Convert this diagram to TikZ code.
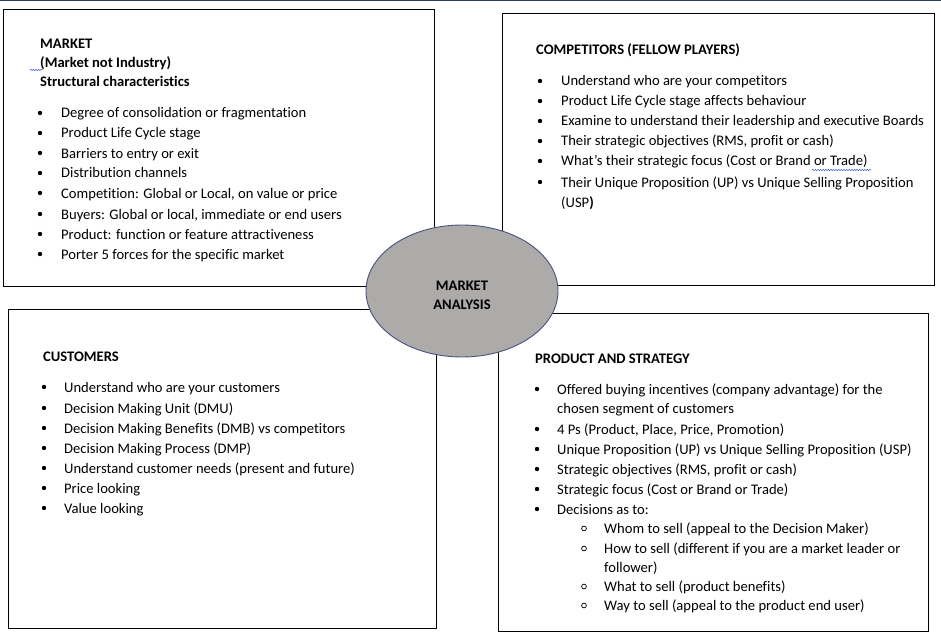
\documentclass[tikz,border=0pt]{standalone}
\usepackage{fontspec}
\setmainfont{Carlito}[Ligatures=NoCommon]
\usetikzlibrary{shapes.geometric,decorations.pathmorphing}

\definecolor{hubgrey}{RGB}{173,170,170}
\definecolor{hubrim}{RGB}{68,84,126}
\definecolor{topband}{RGB}{47,64,100}
\definecolor{spellblue}{RGB}{70,100,210}

\tikzset{
  panel/.style={draw=black, line width=0.9pt},
  hub/.style={ellipse, draw=hubrim, fill=hubgrey, line width=0.9pt, minimum width=192pt, minimum height=132pt, inner sep=0pt},
  head/.style={anchor=base west, inner sep=0pt, font=\fontsize{14.6}{19}\selectfont\bfseries},
  item/.style={anchor=base west, inner sep=0pt, font=\fontsize{14.6}{19}\selectfont},
  squiggle/.style={spellblue, line width=0.5pt, decorate, decoration={snake, amplitude=0.8pt, segment length=2.6pt}},
}

\begin{document}
\begin{tikzpicture}[x=1pt,y=-1pt]
\useasboundingbox (0,0) rectangle (941,639);

%top edge
\draw[topband, line width=1.4pt] (0,0.7) -- (941,0.7);

%panels
\draw[panel] (3.5,9.5) rectangle (434,286);
\draw[panel] (502,13) rectangle (934,285);
\draw[panel] (8,309.5) rectangle (436,628);
\draw[panel] (498,313) rectangle (928,631);

%market
\node[head] (mktA) at (40,49) {MARKET};
\node[head] (mktB) at (40,68) {(Market not Industry)};
\node[head] (mktC) at (40,87) {Structural characteristics};
\draw[squiggle] (30,70) -- (43,70);
\foreach \y/\txt [count=\i] in {118/Degree of consolidation or fragmentation, 138/Product Life Cycle stage,
  158/Barriers to entry or exit, 178/Distribution channels,
  198/{Competition: Global or Local, on value or price}, 219/{Buyers: Global or local, immediate or end users},
  239/Product: function or feature attractiveness, 259/Porter 5 forces for the specific market}
{
  \fill (40,\y-5) circle[radius=2.2pt];
  \node[item] (mkt\i) at (61,\y) {\txt};
}

%competitors
\node[head] (cmpA) at (536,55) {COMPETITORS (FELLOW PLAYERS)};
\foreach \y/\txt [count=\i] in {86/Understand who are your competitors, 106/Product Life Cycle stage affects behaviour,
  126/Examine to understand their leadership and executive Boards, 146/{Their strategic objectives (RMS, profit or cash)},
  166/What’s their strategic focus (Cost or Brand or Trade), 187/Their Unique Proposition (UP) vs Unique Selling Proposition}
{
  \fill (540,\y-5) circle[radius=2.2pt];
  \node[item] (cmp\i) at (561,\y) {\txt};
}
\node[item] (cmpB) at (561,207) {(USP\textbf{)}};
\draw[squiggle] (812,170) -- (871,170);

%customers
\node[head] (cusA) at (43,361) {CUSTOMERS};
\foreach \y/\txt [count=\i] in {392/Understand who are your customers, 413/Decision Making Unit (DMU),
  433/Decision Making Benefits (DMB) vs competitors, 453/Decision Making Process (DMP),
  473/Understand customer needs (present and future), 493/Price looking, 513/Value looking}
{
  \fill (44,\y-5) circle[radius=2.2pt];
  \node[item] (cus\i) at (64,\y) {\txt};
}

%product and strategy
\node[head] (prdA) at (535,363) {PRODUCT AND STRATEGY};
\foreach \y/\txt [count=\i] in {394/Offered buying incentives (company advantage) for the,
  434/{4 Ps (Product, Place, Price, Promotion)}, 454/Unique Proposition (UP) vs Unique Selling Proposition (USP),
  474/{Strategic objectives (RMS, profit or cash)}, 494/Strategic focus (Cost or Brand or Trade), 514/Decisions as to:}
{
  \fill (537,\y-5) circle[radius=2.2pt];
  \node[item] (prd\i) at (557,\y) {\txt};
}
\node[item] (prdB) at (557,413) {chosen segment of customers};
\foreach \y/\txt [count=\i] in {533/Whom to sell (appeal to the Decision Maker),
  553/How to sell (different if you are a market leader or, 591/What to sell (product benefits),
  610/Way to sell (appeal to the product end user)}
{
  \draw[line width=0.7pt] (584,\y-4.5) circle[radius=2.4pt];
  \node[item] (how\i) at (604,\y) {\txt};
}
\node[item] (howB) at (604,572) {follower)};

%centre
\node[hub] (hub) at (462,291) {};
\node[head, anchor=base] (hubA) at (462,290) {MARKET};
\node[head, anchor=base] (hubB) at (462,309) {ANALYSIS};
\end{tikzpicture}
\end{document}
